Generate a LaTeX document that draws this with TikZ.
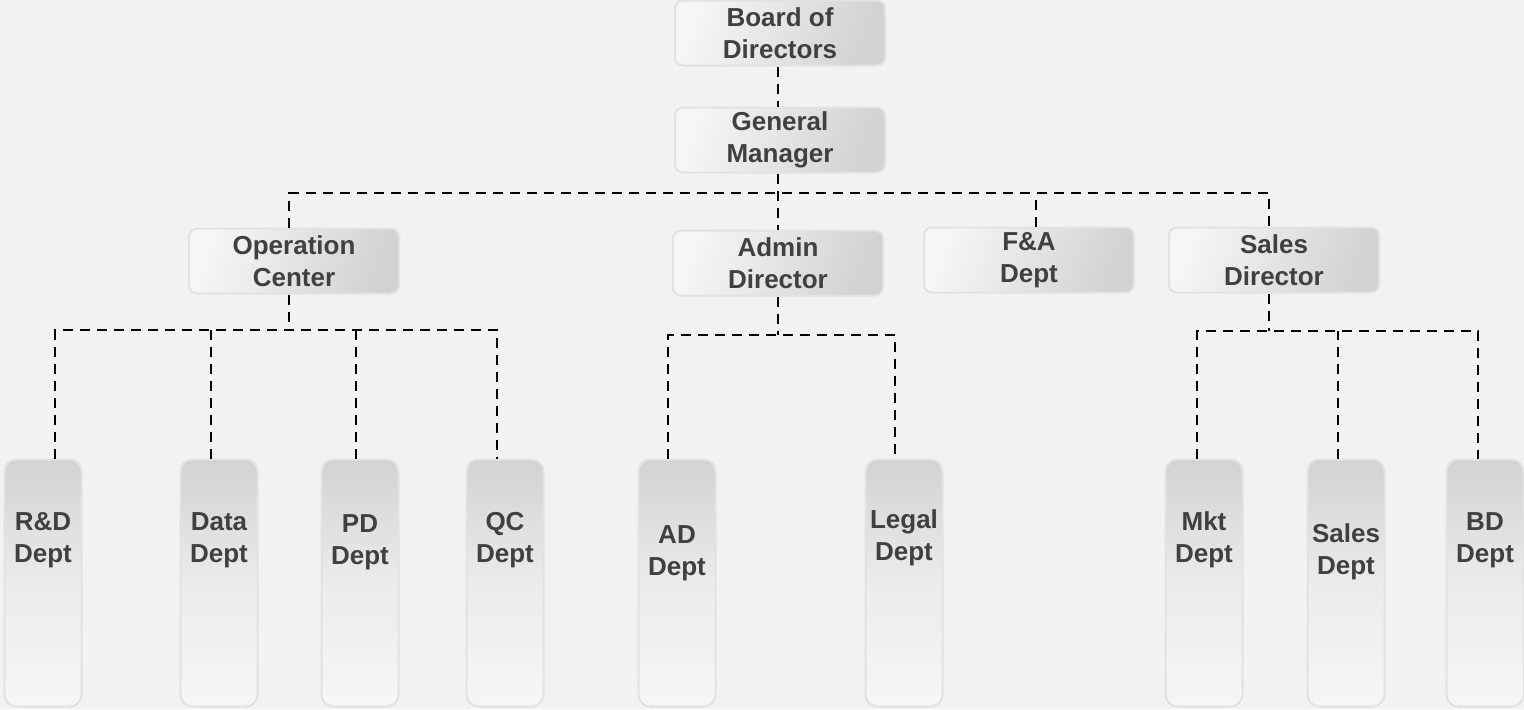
\documentclass[tikz,border=0pt]{standalone}
\usepackage{fontspec}
\setmainfont{Liberation Sans}
\usepackage{xcolor}
\usetikzlibrary{calc,positioning}

\definecolor{bgc}{HTML}{F2F2F2}
\definecolor{txt}{HTML}{404040}
\definecolor{boxedge}{HTML}{E2E2E2}
\definecolor{boxdark}{HTML}{D2D2D2}
\definecolor{boxlight}{HTML}{F6F6F6}

\tikzset{
	topbox/.style={rectangle,rounded corners=4pt,draw=boxedge,line width=1pt,
		left color=boxlight,right color=boxdark,shading angle=70,minimum width=105pt,minimum height=32.5pt,
		inner sep=0pt,align=center,text=txt,font=\bfseries\fontsize{13}{16}\selectfont},
	deptbox/.style={rectangle,rounded corners=6pt,draw=boxedge,line width=1pt,
		top color=boxdark,bottom color=boxlight,middle color=boxlight!70!boxdark,
		minimum width=38.5pt,minimum height=123.5pt,inner sep=0pt},
	depttext/.style={align=center,inner sep=0pt,text=txt,font=\bfseries\fontsize{13}{16}\selectfont},
	link/.style={draw=black,line width=1.2pt,dash pattern=on 5pt off 3.5pt}
}

\begin{document}
\begin{tikzpicture}[x=0.5pt,y=-0.5pt]
		\useasboundingbox (0,0) rectangle (1524,709);
		\fill[bgc] (0,0) rectangle (1524,709);
		% upper levels
		\node[topbox] (bod) at (780,33) {Board of\\Directors};
		\node[topbox] (gm) at (780,140) {General\\Manager};
		\node[topbox] (opc) at (294,261) {Operation\\Center};
		\node[topbox] (adm) at (778,263) {Admin\\Director};
		\node[topbox] (fa) at (1029,260) {F\&A\\Dept};
		\node[topbox] (sdir) at (1274,260) {Sales\\Director};
		% departments
		\foreach \nm/\x/\ty/\lbl in {rnd/43/540/R\&D,data/219/540/Data,pd/360/542/PD,qc/505/540/QC,
			addept/677/553/AD,legal/904/538/Legal,mkt/1204/540/Mkt,sales/1346/552/Sales,bd/1485/540/BD}{
			\node[deptbox] (\nm) at (\x,583) {};
			\node[depttext] (\nm-t) at (\x,\ty) {\lbl\\Dept};
		}
		% bus lines
		\coordinate (busgm) at (778,193);
		\coordinate (busopc) at (289,330);
		\coordinate (busadm) at (778,335);
		\coordinate (bussd) at (1269,331);
		\draw[link] ([xshift=-1pt]bod.south) -- ([xshift=-1pt]gm.north);
		\draw[link] ([xshift=-1pt]gm.south) -- ([xshift=0pt]adm.north);
		\draw[link] ([xshift=-2.5pt]opc.north) |- (busgm) -| ([xshift=-2.5pt]sdir.north);
		\draw[link] ([xshift=3.5pt]fa.north) -- ([xshift=3.5pt]fa.north |- busgm);
		\draw[link] ([xshift=-2.5pt]opc.south) -- (busopc);
		\draw[link] ([xshift=6pt]rnd.north) |- (busopc) -| ([xshift=-4pt]qc.north);
		\draw[link] ([xshift=-4pt]data.north) -- ([xshift=-4pt]data.north |- busopc);
		\draw[link] ([xshift=-2pt]pd.north) -- ([xshift=-2pt]pd.north |- busopc);
		\draw[link] (adm.south) -- (busadm);
		\draw[link] ([xshift=-4.5pt]addept.north) |- (busadm) -| ([xshift=-4.5pt]legal.north);
		\draw[link] ([xshift=-2.5pt]sdir.south) -- (bussd);
		\draw[link] ([xshift=-3.5pt]mkt.north) |- (bussd) -| ([xshift=-3.5pt]bd.north);
		\draw[link] ([xshift=-4pt]sales.north) -- ([xshift=-4pt]sales.north |- bussd);
	\end{tikzpicture}
\end{document}
